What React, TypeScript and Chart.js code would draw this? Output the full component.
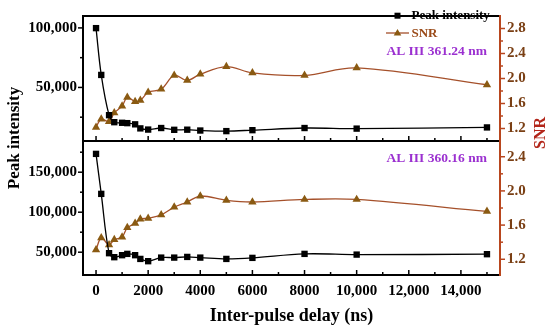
import React, { useEffect, useRef } from 'react';
import { Chart, registerables } from 'chart.js';
Chart.register(...registerables);

const FONT = "'Liberation Serif', 'Times New Roman', serif";

// Inter-pulse delay (ns)
const delays = [0, 200, 500, 700, 1000, 1200, 1500, 1700, 2000, 2500, 3000, 3500, 4000, 5000, 6000, 8000, 10000, 15000];

// AL III 361.24 nm (top panel)
const peak361 = [99800, 60500, 26700, 20800, 20300, 20000, 19000, 15600, 14600, 15900, 14400, 14500, 13800, 13300, 14100, 15900, 15400, 16400];
const snr361 = [1.22, 1.35, 1.31, 1.45, 1.56, 1.7, 1.63, 1.65, 1.78, 1.83, 2.05, 1.97, 2.07, 2.19, 2.09, 2.05, 2.17, 1.9];

// AL III 360.16 nm (bottom panel)
const peak360 = [172900, 122900, 48750, 43750, 46250, 47900, 46250, 41600, 38750, 43250, 43250, 44100, 43250, 41600, 42900, 47900, 47000, 47500];
const snr360 = [1.31, 1.45, 1.37, 1.43, 1.46, 1.57, 1.62, 1.67, 1.68, 1.72, 1.81, 1.87, 1.94, 1.89, 1.87, 1.9, 1.9, 1.76];

// Ticks
const xMajor = [0, 2000, 4000, 6000, 8000, 10000, 12000, 14000];
const xMinor = [1000, 3000, 5000, 7000, 9000, 11000, 13000, 15000];
const topLeftMajor = [50000, 100000];
const topLeftMinor = [25000, 75000];
const topRightMajor = [1.2, 1.6, 2.0, 2.4, 2.8];
const topRightMinor = [1.4, 1.8, 2.2, 2.6];
const botLeftMajor = [50000, 100000, 150000];
const botLeftMinor = [75000, 125000, 175000];
const botRightMajor = [1.2, 1.6, 2.0, 2.4];
const botRightMinor = [1.4, 1.8, 2.2];

const SNR_LINE = '#a5502a';
const SNR_MARK = '#8a5a12';
const RIGHT_AXIS = '#b8461e';
const RIGHT_LABEL = '#7a3f14';
const SNR_TITLE = '#b3261a';
const PURPLE = '#9b30d0';

const fmtX = (v: number) => (v >= 10000 ? v.toLocaleString('en-US') : String(v));
const fmtInt = (v: number) => v.toLocaleString('en-US');

function decorPlugin(p: any) {
  return {
    id: 'decor_' + p.name,
    afterDatasetsDraw(chart: any) {
      const ctx = chart.ctx;
      const ca = chart.chartArea;
      const sx = chart.scales.x;
      const sl = chart.scales.yL;
      const sr = chart.scales.yR;
      ctx.save();
      ctx.lineCap = 'butt';
      // x ticks (inward)
      ctx.strokeStyle = '#000';
      ctx.lineWidth = 1.5;
      const tick = (x1: number, y1: number, x2: number, y2: number) => {
        ctx.beginPath();
        ctx.moveTo(x1, y1);
        ctx.lineTo(x2, y2);
        ctx.stroke();
      };
      xMajor.forEach((v) => { const x = sx.getPixelForValue(v); tick(x, ca.bottom, x, ca.bottom - 5); });
      xMinor.forEach((v) => { const x = sx.getPixelForValue(v); tick(x, ca.bottom, x, ca.bottom - 3); });
      // left ticks (outward)
      p.leftMajor.forEach((v: number) => { const y = sl.getPixelForValue(v); tick(ca.left, y, ca.left - 5, y); });
      p.leftMinor.forEach((v: number) => { const y = sl.getPixelForValue(v); tick(ca.left, y, ca.left - 3, y); });
      // right ticks (outward)
      ctx.strokeStyle = RIGHT_AXIS;
      p.rightMajor.forEach((v: number) => { const y = sr.getPixelForValue(v); tick(ca.right, y, ca.right + 5, y); });
      p.rightMinor.forEach((v: number) => { const y = sr.getPixelForValue(v); tick(ca.right, y, ca.right + 3, y); });
      // frame
      ctx.lineWidth = 2;
      ctx.strokeStyle = '#000';
      tick(ca.left - 1, ca.top, ca.right, ca.top);
      tick(ca.left - 1, ca.bottom, ca.right, ca.bottom);
      tick(ca.left, ca.top, ca.left, ca.bottom);
      ctx.strokeStyle = RIGHT_AXIS;
      tick(ca.right, ca.top - 1, ca.right, ca.bottom + 1);

      // annotation
      ctx.fillStyle = PURPLE;
      ctx.font = `bold 13.5px ${FONT}`;
      ctx.textAlign = 'right';
      ctx.textBaseline = 'middle';
      ctx.fillText(p.label, 487, p.labelY);

      if (p.isTop) {
        // legend
        const lx1 = 386, lx2 = 409, mx = 397.5;
        ctx.lineWidth = 1.3;
        ctx.strokeStyle = '#000';
        tick(lx1, 15.7, lx2, 15.7);
        ctx.fillStyle = '#000';
        ctx.fillRect(mx - 3, 15.7 - 3, 6, 6);
        ctx.strokeStyle = SNR_LINE;
        tick(lx1, 33, lx2, 33);
        ctx.fillStyle = SNR_MARK;
        ctx.beginPath();
        ctx.moveTo(mx, 33 - 4);
        ctx.lineTo(mx + 3.8, 33 + 2.4);
        ctx.lineTo(mx - 3.8, 33 + 2.4);
        ctx.closePath();
        ctx.fill();
        ctx.font = `bold 13px ${FONT}`;
        ctx.textAlign = 'left';
        ctx.fillStyle = '#000';
        ctx.fillText('Peak intensity', 411.5, 16);
        ctx.fillStyle = '#9a4a18';
        ctx.fillText('SNR', 411.5, 33.5);

        // axis titles spanning both panels
        ctx.font = `bold 17px ${FONT}`;
        ctx.fillStyle = '#000';
        ctx.textAlign = 'center';
        ctx.save();
        ctx.translate(15, 138);
        ctx.rotate(-Math.PI / 2);
        ctx.fillText('Peak intensity', 0, 0);
        ctx.restore();
        ctx.font = `bold 16px ${FONT}`;
        ctx.fillStyle = SNR_TITLE;
        ctx.save();
        ctx.translate(541, 133);
        ctx.rotate(-Math.PI / 2);
        ctx.fillText('SNR', 0, 0);
        ctx.restore();
      }
      ctx.restore();
    },
  };
}

function makeConfig(p: any): any {
  const tickFont = { family: FONT, size: 15, weight: 'bold' as const };
  const peakData = delays.map((x, i) => ({ x, y: p.peak[i] }));
  const snrData = delays.map((x, i) => ({ x, y: p.snr[i] }));
  const xScale: any = p.isTop
    ? { type: 'linear', min: -500, max: 15500, display: false }
    : {
        type: 'linear',
        position: 'bottom',
        min: -500,
        max: 15500,
        grid: { display: false, drawTicks: false },
        border: { display: false },
        ticks: { font: tickFont, color: '#000', padding: 7, maxRotation: 0, autoSkip: false, callback: (v: any) => fmtX(Number(v)) },
        afterBuildTicks: (s: any) => { s.ticks = xMajor.map((v) => ({ value: v })); },
        afterFit: (s: any) => { s.height = 55; },
        title: {
          display: true,
          text: 'Inter-pulse delay (ns)',
          font: { family: FONT, size: 18, weight: 'bold' },
          color: '#000',
          padding: { top: 0, bottom: 3 },
        },
      };
  return {
    type: 'line',
    data: {
      datasets: [
        {
          label: 'Peak intensity',
          data: peakData,
          yAxisID: 'yL',
          borderColor: '#000',
          borderWidth: 1.3,
          backgroundColor: '#000',
          pointStyle: 'rect',
          pointRadius: 4.5,
          pointBackgroundColor: '#000',
          pointBorderColor: '#000',
          pointBorderWidth: 0,
          tension: 0.35,
        },
        {
          label: 'SNR',
          data: snrData,
          yAxisID: 'yR',
          borderColor: SNR_LINE,
          borderWidth: 1.3,
          backgroundColor: SNR_MARK,
          pointStyle: 'triangle',
          pointRadius: 4.8,
          pointBackgroundColor: SNR_MARK,
          pointBorderColor: SNR_MARK,
          pointBorderWidth: 0,
          tension: 0.35,
        },
      ],
    },
    options: {
      responsive: false,
      animation: false,
      layout: { padding: p.isTop ? { top: 5, bottom: 189, left: 0, right: 0 } : { top: 141, bottom: 0, left: 0, right: 0 } },
      plugins: { legend: { display: false }, tooltip: { enabled: false } },
      scales: {
        x: xScale,
        yL: {
          type: 'linear',
          position: 'left',
          min: p.leftMin,
          max: p.leftMax,
          grid: { display: false, drawTicks: false },
          border: { display: false },
          ticks: { font: tickFont, color: '#000', padding: 6, callback: (v: any) => fmtInt(Number(v)) },
          afterBuildTicks: (s: any) => { s.ticks = p.leftMajor.map((v: number) => ({ value: v })); },
          afterFit: (s: any) => { s.width = 83; },
        },
        yR: {
          type: 'linear',
          position: 'right',
          min: p.rightMin,
          max: p.rightMax,
          grid: { display: false, drawTicks: false },
          border: { display: false },
          ticks: { font: tickFont, color: RIGHT_LABEL, padding: 7, callback: (v: any) => Number(v).toFixed(1) },
          afterBuildTicks: (s: any) => { s.ticks = p.rightMajor.map((v: number) => ({ value: v })); },
          afterFit: (s: any) => { s.width = 50; },
        },
      },
    },
    plugins: [decorPlugin(p)],
  };
}

const topParams = {
  name: 'top',
  isTop: true,
  peak: peak361,
  snr: snr361,
  leftMin: 5000,
  leftMax: 110000,
  rightMin: 1.0,
  rightMax: 3.0,
  leftMajor: topLeftMajor,
  leftMinor: topLeftMinor,
  rightMajor: topRightMajor,
  rightMinor: topRightMinor,
  label: 'AL III 361.24 nm',
  labelY: 51.7,
};

const botParams = {
  name: 'bot',
  isTop: false,
  peak: peak360,
  snr: snr360,
  leftMin: 21500,
  leftMax: 189000,
  rightMin: 1.016,
  rightMax: 2.584,
  leftMajor: botLeftMajor,
  leftMinor: botLeftMinor,
  rightMajor: botRightMajor,
  rightMinor: botRightMinor,
  label: 'AL III 360.16 nm',
  labelY: 158.3,
};

export default function App() {
  const topRef = useRef<HTMLCanvasElement>(null);
  const botRef = useRef<HTMLCanvasElement>(null);
  useEffect(() => {
    if (!topRef.current || !botRef.current) return;
    const c1 = new Chart(topRef.current, makeConfig(topParams));
    const c2 = new Chart(botRef.current, makeConfig(botParams));
    return () => {
      c1.destroy();
      c2.destroy();
    };
  }, []);
  return (
    <div style={{ position: 'fixed', left: 0, top: 0, width: 550, height: 330, background: '#fff' }}>
      <canvas ref={topRef} width={550} height={330} style={{ position: 'absolute', left: 0, top: 0 }} />
      <canvas ref={botRef} width={550} height={330} style={{ position: 'absolute', left: 0, top: 0 }} />
    </div>
  );
}
